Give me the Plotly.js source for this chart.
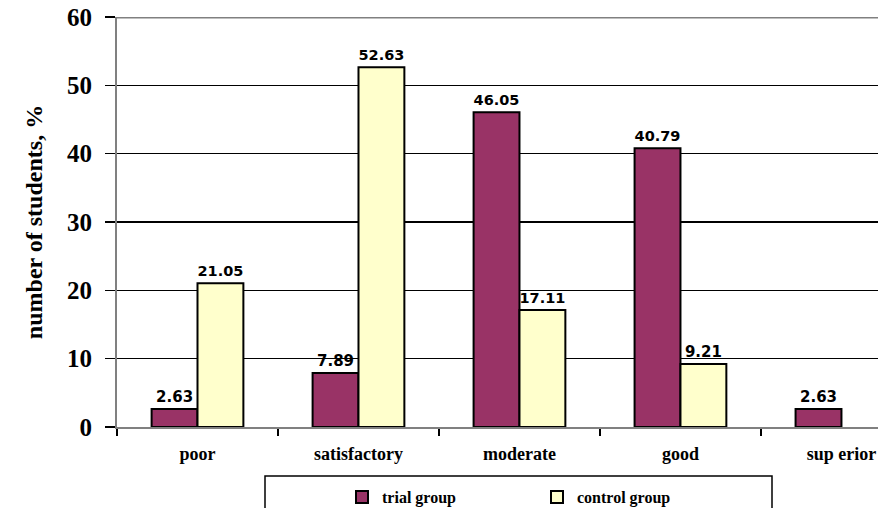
<!DOCTYPE html>
<html>
<head>
<meta charset="utf-8">
<script src="https://cdn.plot.ly/plotly-3.0.1.min.js"></script>
<style>
  html, body { margin: 0; padding: 0; background: #fff; }
  #chart { width: 878px; height: 508px; }
</style>
</head>
<body>
<div id="chart"></div>
<script>
// Knowledge levels of students in the two groups, percent
const categories = ['poor', 'satisfactory', 'moderate', 'good', 'superior'];
const tickLabels = ['poor', 'satisfactory', 'moderate', 'good', 'sup erior'];
const trialGroup = [2.63, 7.89, 46.05, 40.79, 2.63];
const controlGroup = [21.05, 52.63, 17.11, 9.21, null];
const yTicks = [0, 10, 20, 30, 40, 50, 60];

const labelFont = { family: 'DejaVu Sans, Verdana, sans-serif', size: 15, color: '#000', weight: 'bold' };
const serifBold = 'Liberation Serif, Times New Roman, serif';

function fmt(v) { return v == null ? '' : v.toFixed(2); }

const traces = [
  {
    type: 'bar', name: 'trial group', x: categories, y: trialGroup,
    text: trialGroup.map(fmt), textposition: 'outside', cliponaxis: false,
    textfont: labelFont,
    marker: { color: '#993366', line: { color: '#000', width: 2 } },
    hoverinfo: 'skip'
  },
  {
    type: 'bar', name: 'control group', x: categories, y: controlGroup,
    text: controlGroup.map(fmt), textposition: 'outside', cliponaxis: false,
    textfont: labelFont,
    marker: { color: '#FFFFCC', line: { color: '#000', width: 2 } },
    hoverinfo: 'skip'
  }
];

const layout = {
  width: 878, height: 508,
  margin: { l: 117, r: 0, t: 17, b: 81, autoexpand: false },
  paper_bgcolor: '#fff', plot_bgcolor: '#fff',
  barmode: 'group', bargap: 0.43, bargroupgap: 0,
  showlegend: true,
  legend: {
    orientation: 'h', x: (342 - 117) / 761, xanchor: 'left', y: (427 - 480) / 410, yanchor: 'top',
    entrywidth: 150, entrywidthmode: 'pixels',
    font: { family: serifBold, size: 16, color: '#000', weight: 'bold' },
    bgcolor: 'rgba(0,0,0,0)', borderwidth: 0, itemwidth: 30
  },
  xaxis: {
    type: 'category', range: [-0.5, 4.227],
    tickmode: 'array', tickvals: categories, ticktext: tickLabels,
    tickson: 'boundaries', ticks: 'outside', ticklen: 7, tickwidth: 2, tickcolor: '#000',
    ticklabelstandoff: 9,
    showline: true, linecolor: '#808080', linewidth: 2,
    showgrid: false,
    tickfont: { family: serifBold, size: 18, color: '#000', weight: 'bold' },
    fixedrange: true
  },
  yaxis: {
    range: [0, 60], tickvals: yTicks,
    ticks: 'outside', ticklen: 10, tickwidth: 1.5, tickcolor: '#000',
    ticklabelstandoff: 8,
    showline: true, linecolor: '#808080', linewidth: 2,
    showgrid: true, gridcolor: '#000', gridwidth: 1.5, zeroline: false,
    tickfont: { family: serifBold, size: 25, color: '#000', weight: 'bold' },
    title: { text: 'number of students, %', font: { family: serifBold, size: 24, color: '#000', weight: 'bold' }, standoff: 18 },
    fixedrange: true
  },
  shapes: [
    // gray top border at 60
    { type: 'line', xref: 'paper', yref: 'y', x0: 0, x1: 1, y0: 60, y1: 60, line: { color: '#808080', width: 3 } },
    // legend frame
    { type: 'rect', xref: 'paper', yref: 'paper', x0: (265 - 117) / 761, x1: (772 - 117) / 761,
      y0: (427 - 476) / 410, y1: (427 - 530) / 410, line: { color: '#000', width: 1.5 }, fillcolor: 'rgba(0,0,0,0)' }
  ]
};

Plotly.newPlot('chart', traces, layout, { displayModeBar: false, staticPlot: true });
</script>
</body>
</html>
